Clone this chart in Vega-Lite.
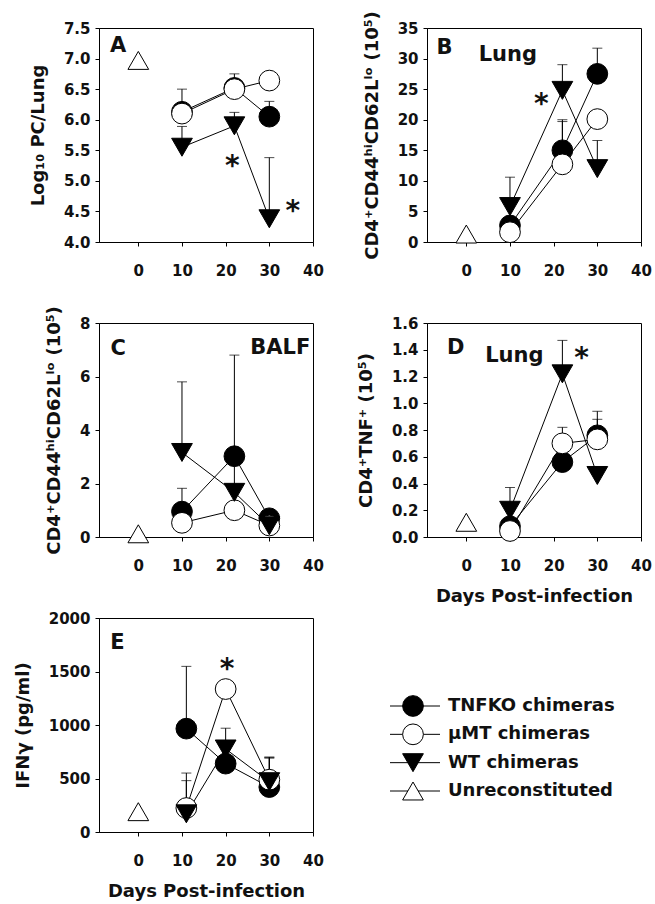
{
"$schema":"https://vega.github.io/schema/vega-lite/v6.json",
"background":"white",
"padding":{"left":13,"top":10,"right":0,"bottom":0},
"datasets":{
"pts":[
{"panel":"A","group":"Unreconstituted","day":0,"val":6.97,"hi":null},
{"panel":"A","group":"TNFKO chimeras","day":10,"val":6.13,"hi":6.5},
{"panel":"A","group":"TNFKO chimeras","day":22,"val":6.52,"hi":6.75},
{"panel":"A","group":"TNFKO chimeras","day":30,"val":6.05,"hi":6.3},
{"panel":"A","group":"μMT chimeras","day":10,"val":6.1,"hi":null},
{"panel":"A","group":"μMT chimeras","day":22,"val":6.5,"hi":null},
{"panel":"A","group":"μMT chimeras","day":30,"val":6.64,"hi":null},
{"panel":"A","group":"WT chimeras","day":10,"val":5.55,"hi":5.89},
{"panel":"A","group":"WT chimeras","day":22,"val":5.9,"hi":6.12},
{"panel":"A","group":"WT chimeras","day":30,"val":4.38,"hi":5.38},
{"panel":"B","group":"Unreconstituted","day":0,"val":1.3,"hi":null},
{"panel":"B","group":"TNFKO chimeras","day":10,"val":2.7,"hi":null},
{"panel":"B","group":"TNFKO chimeras","day":22,"val":15.0,"hi":20.0},
{"panel":"B","group":"TNFKO chimeras","day":30,"val":27.5,"hi":31.7},
{"panel":"B","group":"μMT chimeras","day":10,"val":1.6,"hi":null},
{"panel":"B","group":"μMT chimeras","day":22,"val":12.7,"hi":19.7},
{"panel":"B","group":"μMT chimeras","day":30,"val":20.1,"hi":null},
{"panel":"B","group":"WT chimeras","day":10,"val":5.8,"hi":10.6},
{"panel":"B","group":"WT chimeras","day":22,"val":24.8,"hi":29.0},
{"panel":"B","group":"WT chimeras","day":30,"val":12.0,"hi":16.6},
{"panel":"C","group":"Unreconstituted","day":0,"val":0.12,"hi":null},
{"panel":"C","group":"TNFKO chimeras","day":10,"val":0.95,"hi":1.82},
{"panel":"C","group":"TNFKO chimeras","day":22,"val":3.02,"hi":6.8},
{"panel":"C","group":"TNFKO chimeras","day":30,"val":0.7,"hi":null},
{"panel":"C","group":"μMT chimeras","day":10,"val":0.53,"hi":null},
{"panel":"C","group":"μMT chimeras","day":22,"val":1.0,"hi":null},
{"panel":"C","group":"μMT chimeras","day":30,"val":0.43,"hi":null},
{"panel":"C","group":"WT chimeras","day":10,"val":3.16,"hi":5.8},
{"panel":"C","group":"WT chimeras","day":22,"val":1.67,"hi":2.7},
{"panel":"C","group":"WT chimeras","day":30,"val":0.42,"hi":null},
{"panel":"D","group":"Unreconstituted","day":0,"val":0.11,"hi":null},
{"panel":"D","group":"TNFKO chimeras","day":10,"val":0.08,"hi":null},
{"panel":"D","group":"TNFKO chimeras","day":22,"val":0.56,"hi":null},
{"panel":"D","group":"TNFKO chimeras","day":30,"val":0.76,"hi":0.88},
{"panel":"D","group":"μMT chimeras","day":10,"val":0.045,"hi":null},
{"panel":"D","group":"μMT chimeras","day":22,"val":0.7,"hi":0.82},
{"panel":"D","group":"μMT chimeras","day":30,"val":0.73,"hi":0.94},
{"panel":"D","group":"WT chimeras","day":10,"val":0.2,"hi":0.37},
{"panel":"D","group":"WT chimeras","day":22,"val":1.22,"hi":1.47},
{"panel":"D","group":"WT chimeras","day":30,"val":0.46,"hi":null},
{"panel":"E","group":"Unreconstituted","day":0,"val":190,"hi":null},
{"panel":"E","group":"TNFKO chimeras","day":11,"val":966,"hi":1548},
{"panel":"E","group":"TNFKO chimeras","day":20,"val":639,"hi":null},
{"panel":"E","group":"TNFKO chimeras","day":30,"val":420,"hi":700},
{"panel":"E","group":"μMT chimeras","day":11,"val":224,"hi":551},
{"panel":"E","group":"μMT chimeras","day":20,"val":1336,"hi":null},
{"panel":"E","group":"μMT chimeras","day":30,"val":489,"hi":698},
{"panel":"E","group":"WT chimeras","day":11,"val":170,"hi":480},
{"panel":"E","group":"WT chimeras","day":20,"val":776,"hi":970},
{"panel":"E","group":"WT chimeras","day":30,"val":470,"hi":690}
],
"notes":[
{"panel":"A","kind":"label","text":"A","x":-4.6,"y":7.2},
{"panel":"A","kind":"star","text":"*","x":21.5,"y":5.34},
{"panel":"A","kind":"star","text":"*","x":35.4,"y":4.6},
{"panel":"B","kind":"label","text":"B","x":-5.0,"y":31.7},
{"panel":"B","kind":"label","text":"Lung","x":9.5,"y":30.6},
{"panel":"B","kind":"star","text":"*","x":17.2,"y":23.5},
{"panel":"C","kind":"label","text":"C","x":-4.6,"y":7.03},
{"panel":"C","kind":"label","text":"BALF","x":32.5,"y":7.07},
{"panel":"D","kind":"label","text":"D","x":-2.4,"y":1.41},
{"panel":"D","kind":"label","text":"Lung","x":11,"y":1.35},
{"panel":"D","kind":"star","text":"*","x":26.4,"y":1.38},
{"panel":"E","kind":"label","text":"E","x":-4.8,"y":1766},
{"panel":"E","kind":"star","text":"*","x":20.3,"y":1579}
],
"legend":[
{"group":"TNFKO chimeras"},
{"group":"μMT chimeras"},
{"group":"WT chimeras"},
{"group":"Unreconstituted"}
]
},
"columns":2,
"spacing":{"row":81,"column":114},
"bounds":"flush",
"concat":[
{"width":214,"height":214,"data":{"name":"pts"},
"layer":[
{"transform":[{"filter":"datum.panel==='A' && isValid(datum.hi)"}],"mark":{"type":"rule","color":"black","strokeWidth":1},
"encoding":{"x":{"field":"day","type":"quantitative","scale":{"domain":[-9,40],"nice":false,"zero":false},"axis":{"values":[0,10,20,30,40],"tickCount":20,"format":"d","title":null}},
"y":{"field":"val","type":"quantitative","scale":{"domain":[4,7.5],"nice":false,"zero":false},"axis":{"values":[4,4.5,5,5.5,6,6.5,7,7.5],"tickCount":20,"format":".1f","title":"Log₁₀ PC/Lung"}},"y2":{"field":"hi"}}},
{"transform":[{"filter":"datum.panel==='A' && isValid(datum.hi)"}],"mark":{"type":"tick","orient":"horizontal","color":"black","size":10,"thickness":1},
"encoding":{"x":{"field":"day","type":"quantitative"},"y":{"field":"hi","type":"quantitative"}}},
{"transform":[{"filter":"datum.panel==='A' && datum.group!=='Unreconstituted'"}],"mark":{"type":"line","color":"black","strokeWidth":1},
"encoding":{"x":{"field":"day","type":"quantitative"},"y":{"field":"val","type":"quantitative"},"detail":{"field":"group"}}},
{"transform":[{"filter":"datum.panel==='A'"}],"mark":{"type":"point","filled":true,"opacity":1,"stroke":"black","strokeWidth":1},
"encoding":{"x":{"field":"day","type":"quantitative"},"y":{"field":"val","type":"quantitative"},
"shape":{"field":"group","scale":{"domain":["TNFKO chimeras","μMT chimeras","WT chimeras","Unreconstituted"],"range":["circle","circle","triangle-down","triangle-up"]},"legend":null},
"fill":{"field":"group","scale":{"domain":["TNFKO chimeras","μMT chimeras","WT chimeras","Unreconstituted"],"range":["black","white","black","white"]},"legend":null},
"size":{"field":"group","scale":{"domain":["TNFKO chimeras","μMT chimeras","WT chimeras","Unreconstituted"],"range":[430,430,400,400]},"legend":null}}},
{"data":{"name":"notes"},"transform":[{"filter":"datum.panel==='A' && datum.kind==='label'"}],"mark":{"type":"text","fontSize":21,"fontWeight":"bold","baseline":"middle","color":"#111"},
"encoding":{"x":{"field":"x","type":"quantitative"},"y":{"field":"y","type":"quantitative"},"text":{"field":"text"}}},
{"data":{"name":"notes"},"transform":[{"filter":"datum.panel==='A' && datum.kind==='star'"}],"mark":{"type":"text","fontSize":28,"fontWeight":"bold","baseline":"middle","dy":7,"color":"#111"},
"encoding":{"x":{"field":"x","type":"quantitative"},"y":{"field":"y","type":"quantitative"},"text":{"field":"text"}}}
]},
{"width":214,"height":214,"data":{"name":"pts"},
"layer":[
{"transform":[{"filter":"datum.panel==='B' && isValid(datum.hi)"}],"mark":{"type":"rule","color":"black","strokeWidth":1},
"encoding":{"x":{"field":"day","type":"quantitative","scale":{"domain":[-9,40],"nice":false,"zero":false},"axis":{"values":[0,10,20,30,40],"tickCount":20,"format":"d","title":null}},
"y":{"field":"val","type":"quantitative","scale":{"domain":[0,35],"nice":false,"zero":false},"axis":{"values":[0,5,10,15,20,25,30,35],"tickCount":20,"format":"d","title":"CD4⁺CD44ʰⁱCD62Lˡᵒ (10⁵)"}},"y2":{"field":"hi"}}},
{"transform":[{"filter":"datum.panel==='B' && isValid(datum.hi)"}],"mark":{"type":"tick","orient":"horizontal","color":"black","size":10,"thickness":1},
"encoding":{"x":{"field":"day","type":"quantitative"},"y":{"field":"hi","type":"quantitative"}}},
{"transform":[{"filter":"datum.panel==='B' && datum.group!=='Unreconstituted'"}],"mark":{"type":"line","color":"black","strokeWidth":1},
"encoding":{"x":{"field":"day","type":"quantitative"},"y":{"field":"val","type":"quantitative"},"detail":{"field":"group"}}},
{"transform":[{"filter":"datum.panel==='B'"}],"mark":{"type":"point","filled":true,"opacity":1,"stroke":"black","strokeWidth":1},
"encoding":{"x":{"field":"day","type":"quantitative"},"y":{"field":"val","type":"quantitative"},
"shape":{"field":"group","scale":{"domain":["TNFKO chimeras","μMT chimeras","WT chimeras","Unreconstituted"],"range":["circle","circle","triangle-down","triangle-up"]},"legend":null},
"fill":{"field":"group","scale":{"domain":["TNFKO chimeras","μMT chimeras","WT chimeras","Unreconstituted"],"range":["black","white","black","white"]},"legend":null},
"size":{"field":"group","scale":{"domain":["TNFKO chimeras","μMT chimeras","WT chimeras","Unreconstituted"],"range":[430,430,400,400]},"legend":null}}},
{"data":{"name":"notes"},"transform":[{"filter":"datum.panel==='B' && datum.kind==='label'"}],"mark":{"type":"text","fontSize":21,"fontWeight":"bold","baseline":"middle","color":"#111"},
"encoding":{"x":{"field":"x","type":"quantitative"},"y":{"field":"y","type":"quantitative"},"text":{"field":"text"}}},
{"data":{"name":"notes"},"transform":[{"filter":"datum.panel==='B' && datum.kind==='star'"}],"mark":{"type":"text","fontSize":28,"fontWeight":"bold","baseline":"middle","dy":7,"color":"#111"},
"encoding":{"x":{"field":"x","type":"quantitative"},"y":{"field":"y","type":"quantitative"},"text":{"field":"text"}}}
]},
{"width":214,"height":214,"data":{"name":"pts"},
"layer":[
{"transform":[{"filter":"datum.panel==='C' && isValid(datum.hi)"}],"mark":{"type":"rule","color":"black","strokeWidth":1},
"encoding":{"x":{"field":"day","type":"quantitative","scale":{"domain":[-9,40],"nice":false,"zero":false},"axis":{"values":[0,10,20,30,40],"tickCount":20,"format":"d","title":null}},
"y":{"field":"val","type":"quantitative","scale":{"domain":[0,8],"nice":false,"zero":false},"axis":{"values":[0,2,4,6,8],"tickCount":20,"format":"d","title":"CD4⁺CD44ʰⁱCD62Lˡᵒ (10⁵)"}},"y2":{"field":"hi"}}},
{"transform":[{"filter":"datum.panel==='C' && isValid(datum.hi)"}],"mark":{"type":"tick","orient":"horizontal","color":"black","size":10,"thickness":1},
"encoding":{"x":{"field":"day","type":"quantitative"},"y":{"field":"hi","type":"quantitative"}}},
{"transform":[{"filter":"datum.panel==='C' && datum.group!=='Unreconstituted'"}],"mark":{"type":"line","color":"black","strokeWidth":1},
"encoding":{"x":{"field":"day","type":"quantitative"},"y":{"field":"val","type":"quantitative"},"detail":{"field":"group"}}},
{"transform":[{"filter":"datum.panel==='C'"}],"mark":{"type":"point","filled":true,"opacity":1,"stroke":"black","strokeWidth":1},
"encoding":{"x":{"field":"day","type":"quantitative"},"y":{"field":"val","type":"quantitative"},
"shape":{"field":"group","scale":{"domain":["TNFKO chimeras","μMT chimeras","WT chimeras","Unreconstituted"],"range":["circle","circle","triangle-down","triangle-up"]},"legend":null},
"fill":{"field":"group","scale":{"domain":["TNFKO chimeras","μMT chimeras","WT chimeras","Unreconstituted"],"range":["black","white","black","white"]},"legend":null},
"size":{"field":"group","scale":{"domain":["TNFKO chimeras","μMT chimeras","WT chimeras","Unreconstituted"],"range":[430,430,400,400]},"legend":null}}},
{"data":{"name":"notes"},"transform":[{"filter":"datum.panel==='C' && datum.kind==='label'"}],"mark":{"type":"text","fontSize":21,"fontWeight":"bold","baseline":"middle","color":"#111"},
"encoding":{"x":{"field":"x","type":"quantitative"},"y":{"field":"y","type":"quantitative"},"text":{"field":"text"}}}
]},
{"width":214,"height":214,"data":{"name":"pts"},
"layer":[
{"transform":[{"filter":"datum.panel==='D' && isValid(datum.hi)"}],"mark":{"type":"rule","color":"black","strokeWidth":1},
"encoding":{"x":{"field":"day","type":"quantitative","scale":{"domain":[-9,40],"nice":false,"zero":false},"axis":{"values":[0,10,20,30,40],"tickCount":20,"format":"d","title":"Days Post-infection"}},
"y":{"field":"val","type":"quantitative","scale":{"domain":[0,1.6],"nice":false,"zero":false},"axis":{"values":[0,0.2,0.4,0.6,0.8,1.0,1.2,1.4,1.6],"tickCount":20,"format":".1f","title":"CD4⁺TNF⁺ (10⁵)"}},"y2":{"field":"hi"}}},
{"transform":[{"filter":"datum.panel==='D' && isValid(datum.hi)"}],"mark":{"type":"tick","orient":"horizontal","color":"black","size":10,"thickness":1},
"encoding":{"x":{"field":"day","type":"quantitative"},"y":{"field":"hi","type":"quantitative"}}},
{"transform":[{"filter":"datum.panel==='D' && datum.group!=='Unreconstituted'"}],"mark":{"type":"line","color":"black","strokeWidth":1},
"encoding":{"x":{"field":"day","type":"quantitative"},"y":{"field":"val","type":"quantitative"},"detail":{"field":"group"}}},
{"transform":[{"filter":"datum.panel==='D'"}],"mark":{"type":"point","filled":true,"opacity":1,"stroke":"black","strokeWidth":1},
"encoding":{"x":{"field":"day","type":"quantitative"},"y":{"field":"val","type":"quantitative"},
"shape":{"field":"group","scale":{"domain":["TNFKO chimeras","μMT chimeras","WT chimeras","Unreconstituted"],"range":["circle","circle","triangle-down","triangle-up"]},"legend":null},
"fill":{"field":"group","scale":{"domain":["TNFKO chimeras","μMT chimeras","WT chimeras","Unreconstituted"],"range":["black","white","black","white"]},"legend":null},
"size":{"field":"group","scale":{"domain":["TNFKO chimeras","μMT chimeras","WT chimeras","Unreconstituted"],"range":[430,430,400,400]},"legend":null}}},
{"data":{"name":"notes"},"transform":[{"filter":"datum.panel==='D' && datum.kind==='label'"}],"mark":{"type":"text","fontSize":21,"fontWeight":"bold","baseline":"middle","color":"#111"},
"encoding":{"x":{"field":"x","type":"quantitative"},"y":{"field":"y","type":"quantitative"},"text":{"field":"text"}}},
{"data":{"name":"notes"},"transform":[{"filter":"datum.panel==='D' && datum.kind==='star'"}],"mark":{"type":"text","fontSize":28,"fontWeight":"bold","baseline":"middle","dy":7,"color":"#111"},
"encoding":{"x":{"field":"x","type":"quantitative"},"y":{"field":"y","type":"quantitative"},"text":{"field":"text"}}}
]},
{"width":214,"height":214,"data":{"name":"pts"},
"layer":[
{"transform":[{"filter":"datum.panel==='E' && isValid(datum.hi)"}],"mark":{"type":"rule","color":"black","strokeWidth":1},
"encoding":{"x":{"field":"day","type":"quantitative","scale":{"domain":[-9,40],"nice":false,"zero":false},"axis":{"values":[0,10,20,30,40],"tickCount":20,"format":"d","title":"Days Post-infection"}},
"y":{"field":"val","type":"quantitative","scale":{"domain":[0,2000],"nice":false,"zero":false},"axis":{"values":[0,500,1000,1500,2000],"tickCount":20,"format":"d","title":"IFNγ (pg/ml)"}},"y2":{"field":"hi"}}},
{"transform":[{"filter":"datum.panel==='E' && isValid(datum.hi)"}],"mark":{"type":"tick","orient":"horizontal","color":"black","size":10,"thickness":1},
"encoding":{"x":{"field":"day","type":"quantitative"},"y":{"field":"hi","type":"quantitative"}}},
{"transform":[{"filter":"datum.panel==='E' && datum.group!=='Unreconstituted'"}],"mark":{"type":"line","color":"black","strokeWidth":1},
"encoding":{"x":{"field":"day","type":"quantitative"},"y":{"field":"val","type":"quantitative"},"detail":{"field":"group"}}},
{"transform":[{"filter":"datum.panel==='E'"}],"mark":{"type":"point","filled":true,"opacity":1,"stroke":"black","strokeWidth":1},
"encoding":{"x":{"field":"day","type":"quantitative"},"y":{"field":"val","type":"quantitative"},
"shape":{"field":"group","scale":{"domain":["TNFKO chimeras","μMT chimeras","WT chimeras","Unreconstituted"],"range":["circle","circle","triangle-down","triangle-up"]},"legend":null},
"fill":{"field":"group","scale":{"domain":["TNFKO chimeras","μMT chimeras","WT chimeras","Unreconstituted"],"range":["black","white","black","white"]},"legend":null},
"size":{"field":"group","scale":{"domain":["TNFKO chimeras","μMT chimeras","WT chimeras","Unreconstituted"],"range":[430,430,400,400]},"legend":null}}},
{"data":{"name":"notes"},"transform":[{"filter":"datum.panel==='E' && datum.kind==='label'"}],"mark":{"type":"text","fontSize":21,"fontWeight":"bold","baseline":"middle","color":"#111"},
"encoding":{"x":{"field":"x","type":"quantitative"},"y":{"field":"y","type":"quantitative"},"text":{"field":"text"}}},
{"data":{"name":"notes"},"transform":[{"filter":"datum.panel==='E' && datum.kind==='star'"}],"mark":{"type":"text","fontSize":28,"fontWeight":"bold","baseline":"middle","dy":7,"color":"#111"},
"encoding":{"x":{"field":"x","type":"quantitative"},"y":{"field":"y","type":"quantitative"},"text":{"field":"text"}}}
]},
{"width":214,"height":214,"view":{"stroke":null},"data":{"name":"legend"},
"layer":[
{"mark":{"type":"rule","color":"black","strokeWidth":1},
"encoding":{"x":{"datum":-37,"type":"quantitative","scale":{"domain":[0,214],"nice":false,"zero":false},"axis":null},"x2":{"datum":13},
"y":{"field":"group","type":"nominal","sort":null,"scale":{"type":"point","domain":["TNFKO chimeras","μMT chimeras","WT chimeras","Unreconstituted"],"range":[88,173],"padding":0},"axis":null}}},
{"mark":{"type":"point","filled":true,"opacity":1,"stroke":"black","strokeWidth":1},
"encoding":{"x":{"datum":-14,"type":"quantitative"},"y":{"field":"group","type":"nominal"},
"shape":{"field":"group","scale":{"domain":["TNFKO chimeras","μMT chimeras","WT chimeras","Unreconstituted"],"range":["circle","circle","triangle-down","triangle-up"]},"legend":null},
"fill":{"field":"group","scale":{"domain":["TNFKO chimeras","μMT chimeras","WT chimeras","Unreconstituted"],"range":["black","white","black","white"]},"legend":null},
"size":{"field":"group","scale":{"domain":["TNFKO chimeras","μMT chimeras","WT chimeras","Unreconstituted"],"range":[430,430,400,400]},"legend":null}}},
{"mark":{"type":"text","align":"left","baseline":"middle","fontSize":18,"fontWeight":"bold","color":"#111"},
"encoding":{"x":{"datum":21,"type":"quantitative"},"y":{"field":"group","type":"nominal"},"text":{"field":"group"}}}
]}
],
"config":{
"font":"DejaVu Sans",
"view":{"stroke":"black","strokeWidth":1},
"axis":{"grid":false,"domainColor":"black","domainWidth":1,"tickColor":"black","tickWidth":1,"tickSize":4,"labelFont":"DejaVu Sans","labelFontSize":15,"labelFontWeight":"bold","labelColor":"#111","titleFont":"DejaVu Sans","titleFontSize":18,"titleFontWeight":"bold","titleColor":"#111","labelOverlap":false},
"axisX":{"labelPadding":17,"titlePadding":14,"labelFlush":false},
"axisY":{"labelPadding":5,"titlePadding":16,"labelFlush":false}
}
}
